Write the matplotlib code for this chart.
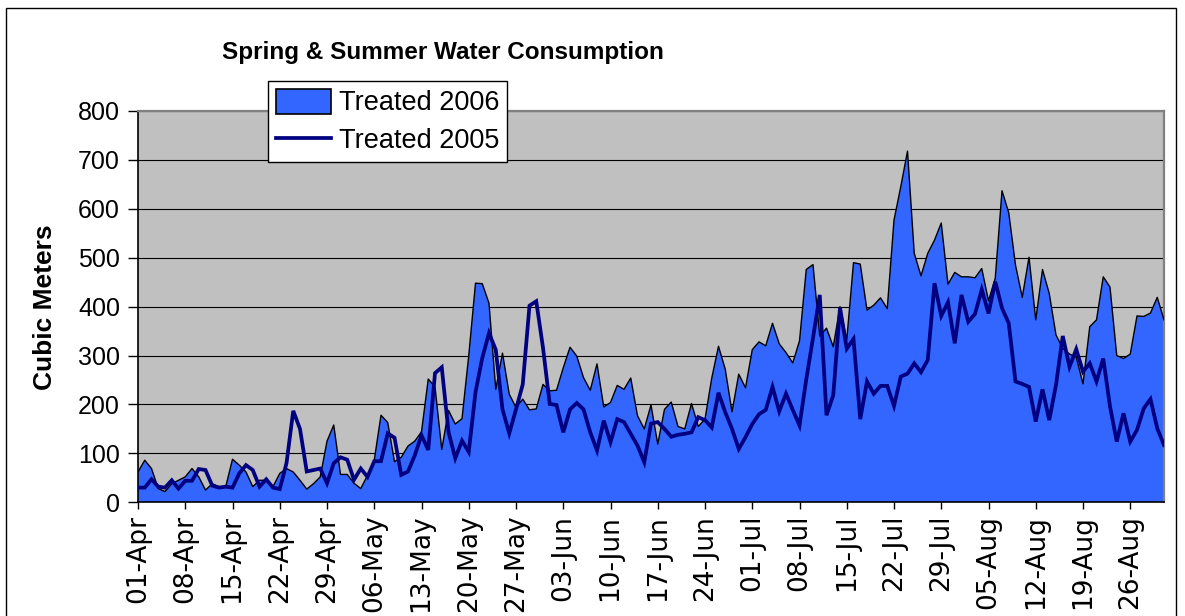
import numpy as np
import matplotlib
matplotlib.use("Agg")
import matplotlib.pyplot as plt
from matplotlib.patches import Rectangle

plt.rcParams['font.family'] = ['Liberation Sans', 'DejaVu Sans']

# ---- data (cubic meters per day, 01-Apr .. 31-Aug) ----
treated_2006 = [
    62, 86, 69, 28, 22, 38, 45, 52, 69, 52,
    25, 38, 32, 32, 88, 76, 62, 32, 45, 45,
    32, 59, 69, 62, 45, 27, 38, 52, 125, 158,
    57, 57, 39, 28, 55, 86, 178, 163, 83, 92,
    115, 125, 144, 252, 236, 108, 188, 160, 171, 300,
    448, 447, 407, 231, 305, 221, 194, 211, 189, 191,
    241, 228, 229, 275, 317, 299, 255, 229, 283, 195,
    204, 239, 231, 254, 177, 150, 199, 119, 190, 205,
    155, 150, 202, 155, 170, 254, 319, 272, 185, 262,
    234, 312, 328, 320, 366, 324, 306, 285, 330, 476,
    486, 340, 356, 318, 400, 332, 490, 487, 393, 403,
    418, 396, 577, 645, 718, 509, 463, 509, 536, 571,
    446, 470, 461, 461, 459, 478, 412, 458, 637, 592,
    485, 419, 501, 373, 476, 427, 342, 315, 303, 297,
    242, 359, 373, 461, 440, 300, 294, 303, 381, 380,
    387, 419, 373,
]

treated_2005 = [
    30, 30, 47, 32, 30, 45, 28, 44, 44, 68,
    66, 34, 30, 32, 30, 59, 76, 66, 32, 47,
    30, 27, 80, 187, 150, 63, 66, 69, 39, 80,
    92, 87, 46, 69, 52, 84, 84, 141, 132, 56,
    63, 96, 137, 107, 264, 276, 144, 90, 126, 103,
    225, 295, 346, 312, 190, 141, 190, 241, 402, 411,
    316, 201, 199, 143, 190, 203, 190, 143, 106, 167,
    123, 170, 164, 140, 116, 82, 161, 164, 150, 134,
    138, 140, 143, 174, 168, 153, 224, 184, 150, 109,
    133, 160, 180, 189, 236, 186, 222, 189, 157, 251,
    336, 424, 178, 219, 398, 314, 334, 170, 247, 222,
    238, 238, 197, 257, 263, 284, 266, 291, 448, 381,
    409, 325, 424, 369, 385, 435, 386, 451, 397, 366,
    247, 242, 236, 165, 231, 168, 240, 340, 277, 313,
    267, 284, 247, 294, 196, 124, 182, 124, 148, 192,
    211, 151, 117,
]

tick_labels = ['01-Apr', '08-Apr', '15-Apr', '22-Apr', '29-Apr', '06-May',
               '13-May', '20-May', '27-May', '03-Jun', '10-Jun', '17-Jun',
               '24-Jun', '01-Jul', '08-Jul', '15-Jul', '22-Jul', '29-Jul',
               '05-Aug', '12-Aug', '19-Aug', '26-Aug']
y_ticks = [0, 100, 200, 300, 400, 500, 600, 700, 800]

title = 'Spring & Summer Water Consumption'
y_label = 'Cubic Meters'
series_names = ['Treated 2006', 'Treated 2005']

# ---- figure ----
W, H = 1185, 616
fig = plt.figure(figsize=(W / 100, H / 100), dpi=100)
fig.patch.set_facecolor('white')

L, R, T, B = 138, 1164, 111, 502.3
ax = fig.add_axes([L / W, 1 - B / H, (R - L) / W, (B - T) / H])
ax.set_facecolor('#C0C0C0')
ax.set_axisbelow(True)

days = np.arange(len(treated_2006))
area = ax.fill_between(days, 0, treated_2006, facecolor='#3366FF',
                       edgecolor='none', zorder=2, label=series_names[0])
ax.plot(days, treated_2006, color='black', lw=1.0, zorder=3)
line, = ax.plot(days, treated_2005, color='#000080', lw=2.7, zorder=4,
                solid_joinstyle='miter', label=series_names[1])

ax.set_xlim(0, len(treated_2006) - 1)
ax.set_ylim(0, 800)
ax.set_yticks(y_ticks)
ax.set_yticklabels([str(v) for v in y_ticks], fontsize=18)
ax.set_xticks(np.arange(len(tick_labels)) * 7)
ax.set_xticklabels(tick_labels, rotation=90, fontsize=19,
                   family='DejaVu Sans', va='top', ha='center')
ax.tick_params(axis='y', direction='out', length=7, width=1, pad=6,
               colors='black')
ax.tick_params(axis='x', direction='out', length=5, width=1, pad=4,
               colors='black')
ax.yaxis.grid(True, color='black', lw=0.8)
ax.xaxis.grid(False)

for s in ['left', 'bottom']:
    ax.spines[s].set_color('black')
    ax.spines[s].set_linewidth(1.2)
for s in ['top', 'right']:
    ax.spines[s].set_color('#808080')
    ax.spines[s].set_linewidth(1.6)

fig.text(443 / W, 1 - 52 / H, title, ha='center', va='center',
         fontsize=17.5, fontweight='bold')
fig.text(45 / W, 1 - 307 / H, y_label, ha='center', va='center',
         rotation=90, fontsize=19, fontweight='bold')

leg = fig.legend([Rectangle((0, 0), 1, 1, facecolor='#3366FF',
                            edgecolor='black', lw=1.2), line],
                 series_names, loc='upper left',
                 bbox_to_anchor=(268 / W, 1 - 81 / H),
                 fontsize=19.5, frameon=True, fancybox=False,
                 edgecolor='black', framealpha=1, borderpad=0.28,
                 handlelength=2.05, handleheight=1.05, handletextpad=0.3,
                 labelspacing=0.38, borderaxespad=0)
leg.get_frame().set_linewidth(1.0)

# outer chart border
fig.patches.append(Rectangle((6 / W, -0.05), (1176 - 6) / W, 1 - 8 / H + 0.05,
                             transform=fig.transFigure, fill=False,
                             edgecolor='black', lw=1.0))

fig.savefig('out.png', dpi=100)
